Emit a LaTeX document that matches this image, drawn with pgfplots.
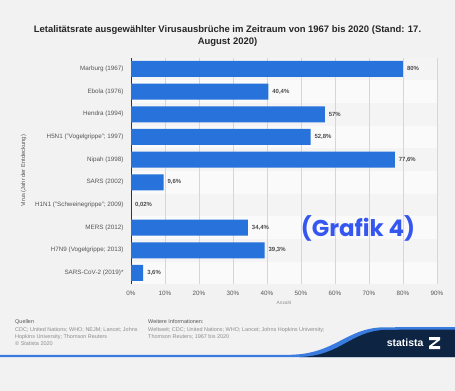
\documentclass[border=0pt]{standalone}
\usepackage{pgfplots}
\pgfplotsset{compat=1.18}
\usepackage{fontspec}
\setmainfont{Liberation Sans}
\newfontfamily\grafik{Poppins}
\definecolor{bg}{HTML}{F2F2F2}
\definecolor{rowlight}{HTML}{FAFAFA}
\definecolor{rowdark}{HTML}{F4F4F4}
\definecolor{barblue}{HTML}{2872DB}
\definecolor{navy}{HTML}{0D2443}
\definecolor{wave}{HTML}{3A7BDF}
\definecolor{txtgray}{HTML}{555555}
\definecolor{srcgray}{HTML}{8C8C8C}
\definecolor{grafikblue}{HTML}{3557F0}
\begin{document}
\begin{tikzpicture}
\fill[bg] (0bp,0bp) rectangle (455bp,-391bp);
% row stripes (background)
\fill[rowdark] (131bp,-57.7bp) rectangle (437bp,-284.3bp);
\foreach \i in {1,3,5,7,9} {
  \fill[rowlight] (131bp,{-57.7bp-22.67bp*\i}) rectangle (437bp,{-57.7bp-22.67bp*(\i+1)});
}
% title
\node[font=\bfseries\fontsize{9.5}{12}\selectfont, align=center, text=black!85] at (227.5bp,-36bp)
  {Letalitätsrate ausgewählter Virusausbrüche im Zeitraum von 1967 bis 2020 (Stand: 17.\\August 2020)};
\begin{axis}[
  scale only axis,
  width=306bp, height=226.7bp,
  at={(131bp,-284.3bp)}, anchor=south west,
  xbar, bar width=16bp,
  xmin=0, xmax=90,
  ymin=-0.5, ymax=9.5,
  ytick={0,...,9},
  yticklabels={SARS-CoV-2 (2019)*, {H7N9 (Vogelgrippe; 2013)}, MERS (2012), {H1N1 ("Schweinegrippe"; 2009)}, SARS (2002), Nipah (1998), {H5N1 ("Vogelgrippe"; 1997)}, Hendra (1994), Ebola (1976), Marburg (1967)},
  xtick={0,10,...,90},
  xticklabels={0\%,10\%,20\%,30\%,40\%,50\%,60\%,70\%,80\%,90\%},
  tick label style={font=\fontsize{6.3}{7}\selectfont, text=txtgray},
  major tick length=0pt,
  xmajorgrids, grid style={black!16, line width=0.6pt},
  axis lines*=left,
  x axis line style={draw=none},
  y axis line style={black!80, line width=0.6pt, -},
  xticklabel style={yshift=-3bp},
  yticklabel style={xshift=-4bp},
  xlabel={Anzahl}, xlabel style={font=\fontsize{4.8}{5}\selectfont, text=srcgray, yshift=1bp},
  ylabel={Virus (Jahr der Entdeckung)}, ylabel style={font=\fontsize{5.8}{6}\selectfont, text=txtgray, yshift=2bp},
  point meta=explicit symbolic,
  nodes near coords,
  every node near coord/.append style={font=\bfseries\fontsize{6}{7}\selectfont, text=black!70, anchor=west, xshift=0.5bp, yshift=0bp},
]
\addplot[fill=barblue, draw=none] coordinates {
  (80,9) [80\%]
  (40.4,8) [40,4\%]
  (57,7) [57\%]
  (52.8,6) [52,8\%]
  (77.6,5) [77,6\%]
  (9.6,4) [9,6\%]
  (0.02,3) [0,02\%]
  (34.4,2) [34,4\%]
  (39.3,1) [39,3\%]
  (3.6,0) [3,6\%]
};
\end{axis}
% overlay text
\node[font=\grafik\bfseries\fontsize{23}{26}\selectfont, text=grafikblue] at (358bp,-228bp) {(Grafik 4)};
% footer
\node[anchor=north west, font=\fontsize{5.5}{6.3}\selectfont, align=left, text=txtgray, inner sep=0pt] at (15bp,-319bp) {Quellen};
\node[anchor=north west, font=\fontsize{5.5}{7.4}\selectfont, align=left, text=srcgray, inner sep=0pt] at (15bp,-327bp)
  {CDC; United Nations; WHO; NEJM; Lancet; Johns\\Hopkins University; Thomson Reuters\\\textcopyright{} Statista 2020};
\node[anchor=north west, font=\fontsize{5.5}{6.3}\selectfont, align=left, text=txtgray, inner sep=0pt] at (148bp,-319bp) {Weitere Informationen:};
\node[anchor=north west, font=\fontsize{5.5}{7.4}\selectfont, align=left, text=srcgray, inner sep=0pt] at (148bp,-327bp)
  {Weltweit; CDC; United Nations; WHO; Lancet; Johns Hopkins University;\\Thomson Reuters; 1967 bis 2020};
% statista band
\fill[wave] (0bp,-354.8bp) -- (290bp,-354.8bp) .. controls (335bp,-354bp) and (345bp,-329bp) .. (382bp,-327.3bp) -- (455bp,-327bp) -- (455bp,-357bp) -- (0bp,-357bp) -- cycle;
\fill[navy] (300bp,-357bp) .. controls (342bp,-355.5bp) and (350bp,-331bp) .. (386bp,-329.8bp) -- (455bp,-329.5bp) -- (455bp,-357bp) -- cycle;
\node[font=\bfseries\fontsize{10.5}{12}\selectfont, text=white, anchor=east] at (427bp,-343bp) {statista};
\fill[white] (429bp,-337bp) -- (440bp,-337bp) -- (440bp,-340bp) -- (432bp,-346bp) -- (440bp,-346bp) -- (440bp,-349bp) -- (429bp,-349bp) -- (429bp,-346bp) -- (437bp,-340bp) -- (429bp,-340bp) -- cycle;
\end{tikzpicture}
\end{document}
